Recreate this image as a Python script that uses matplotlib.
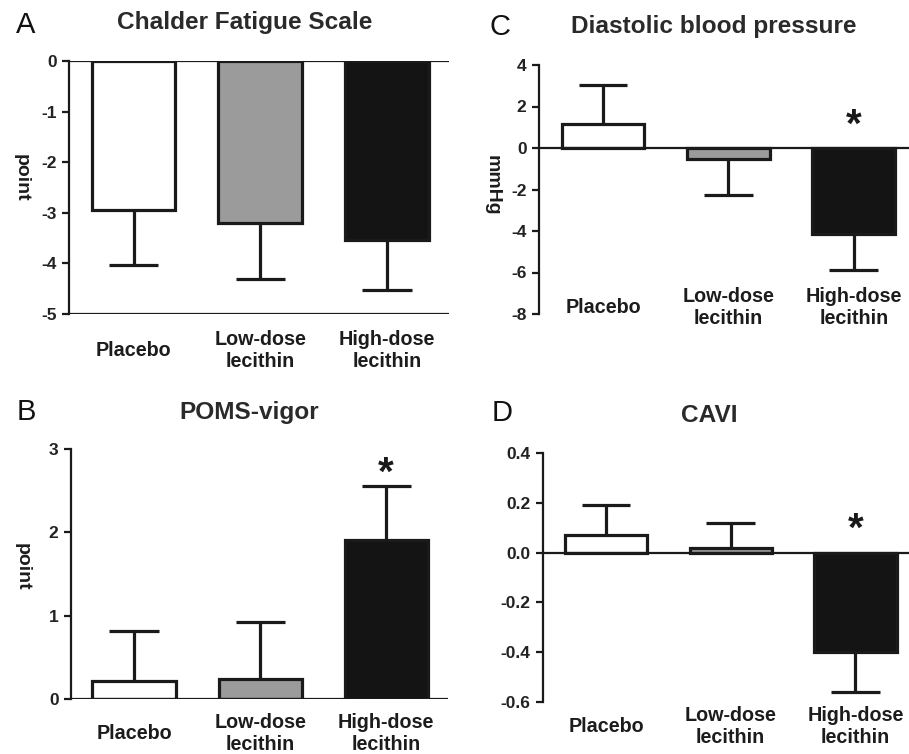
import matplotlib
matplotlib.use("Agg")
import matplotlib.pyplot as plt
import numpy as np

plt.rcParams['font.family'] = ['Liberation Sans', 'DejaVu Sans']

# data
groups = ["Placebo", "Low-dose\nlecithin", "High-dose\nlecithin"]
bar_colors = ["white", "#9b9b9b", "#141414"]

fatigue_mean = [-2.94, -3.21, -3.54]
fatigue_sem = [1.10, 1.10, 0.98]

vigor_mean = [0.22, 0.24, 1.91]
vigor_sem = [0.60, 0.68, 0.65]

dbp_mean = [1.18, -0.53, -4.14]
dbp_sem = [1.87, 1.72, 1.76]

cavi_mean = [0.072, 0.017, -0.40]
cavi_sem = [0.12, 0.10, 0.16]

W, H = 909, 754
INK = "#1a1a1a"


def box(l, t, r, b):
    return [l / W, 1 - b / H, (r - l) / W, (b - t) / H]


def draw_panel(ax, means, sems, ylim, yticks, ticklabels, xlim, label_y, star=None):
    x = np.arange(len(means))
    ax.bar(x, means, width=0.66, color=bar_colors, edgecolor=INK, linewidth=2.3, zorder=3)
    for xi, m, s in zip(x, means, sems):
        end = m + s if m >= 0 else m - s
        ax.vlines(xi, m, end, color=INK, linewidth=2.3, zorder=2)
        ax.hlines(end, xi - 0.195, xi + 0.195, color=INK, linewidth=2.3, zorder=2)
    ax.set_xlim(*xlim)
    ax.set_ylim(*ylim)
    ax.set_yticks(yticks)
    ax.set_yticklabels(ticklabels)
    ax.set_xticks([])
    for sp in ax.spines.values():
        sp.set_visible(False)
    ax.spines['left'].set_visible(True)
    ax.spines['left'].set_linewidth(1.6)
    ax.spines['left'].set_color(INK)
    ax.axhline(0, color=INK, linewidth=1.6, zorder=4)
    ax.tick_params(axis='y', direction='out', length=5, width=1.6, color=INK,
                   pad=4, labelsize=12.5, labelcolor="#222222")
    for t in ax.get_yticklabels():
        t.set_fontweight('bold')
    for xi, g in zip(x, groups):
        ax.text(xi, label_y, g, ha='center', va='center', fontsize=14.2,
                fontweight='bold', color="#1c1c1c", linespacing=1.2, clip_on=False)
    if star is not None:
        ax.text(2, star, "*", ha='center', va='center', fontsize=29,
                fontweight='bold', color=INK, clip_on=False)


fig = plt.figure(figsize=(9.09, 7.54), dpi=100)

axA = fig.add_axes(box(69, 61, 449, 314))
draw_panel(axA, fatigue_mean, fatigue_sem, (-5, 0), [0, -1, -2, -3, -4, -5],
           ["0", "-1", "-2", "-3", "-4", "-5"], (-0.51, 2.49), -5.73)
axA.axhline(-5, color=INK, linewidth=1.6, zorder=4)

axC = fig.add_axes(box(539, 65, 909, 314))
draw_panel(axC, dbp_mean, dbp_sem, (-8, 4), [4, 2, 0, -2, -4, -6, -8],
           ["4", "2", "0", "-2", "-4", "-6", "-8"], (-0.51, 2.44), -7.7, star=1.06)

axB = fig.add_axes(box(71, 449, 448, 699))
draw_panel(axB, vigor_mean, vigor_sem, (0, 3), [0, 1, 2, 3],
           ["0", "1", "2", "3"], (-0.50, 2.49), -0.41, star=2.70)

axD = fig.add_axes(box(543, 453, 909, 702))
draw_panel(axD, cavi_mean, cavi_sem, (-0.6, 0.4), [0.4, 0.2, 0.0, -0.2, -0.4, -0.6],
           ["0.4", "0.2", "0.0", "-0.2", "-0.4", "-0.6"], (-0.505, 2.43), -0.70, star=0.092)


def ftext(x, y, s, **kw):
    fig.text(x / W, 1 - y / H, s, ha='center', va='center', **kw)


# panel letters
for (px, py, s) in [(26, 25, "A"), (500, 27, "C"), (26, 412, "B"), (502, 413, "D")]:
    ftext(px, py, s, fontsize=21, color="#111111")

# titles
for (px, py, s) in [(245, 23, "Chalder Fatigue Scale"), (714, 27, "Diastolic blood pressure"),
                    (249, 412, "POMS-vigor"), (709, 415, "CAVI")]:
    ftext(px, py, s, fontsize=17.6, fontweight='bold', color="#2a2a2a")

# y labels
for (px, py, s) in [(21, 178, "point"), (22, 567, "point"), (492, 185, "mmHg")]:
    ftext(px, py, s, fontsize=14, fontweight='bold', color="#1c1c1c", rotation=-90)

fig.savefig("out.png", dpi=100)
